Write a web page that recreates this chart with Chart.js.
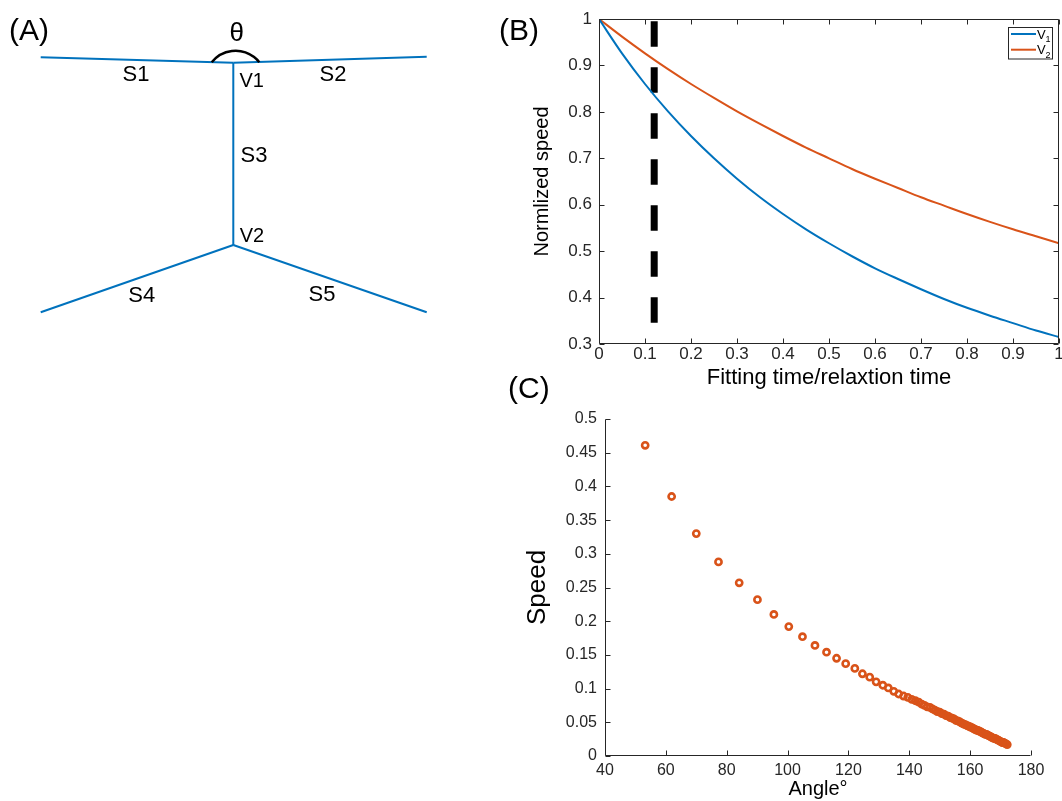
<!DOCTYPE html>
<html>
<head>
<meta charset="utf-8">
<script src="https://cdn.jsdelivr.net/npm/chart.js@4.4.1/dist/chart.umd.min.js"></script>
<style>
  body { margin: 0; background: #fff; }
  #page { position: relative; width: 1062px; height: 801px; overflow: hidden; background: #fff; }
  canvas { position: absolute; }
</style>
</head>
<body>
<div id="page">
  <canvas id="chartA" width="460" height="340" style="left:0;top:0"></canvas>
  <canvas id="chartB" width="562" height="400" style="left:500px;top:0"></canvas>
  <canvas id="chartC" width="562" height="441" style="left:500px;top:360px"></canvas>
</div>
<script>
// ---- (A) network sketch, units = px, origin at vertex V2, y up
const pointNames = ['V1', 'V2', 'P1', 'P2', 'P4', 'P5']
const pointX = [0, 0, -192.6, 193.4, -192.6, 193.4]
const pointY = [182.3, 0, 187.7, 188.3, -67.3, -67.3]
const segments = [['P1', 'V1'], ['V1', 'P2'], ['V1', 'V2'], ['V2', 'P4'], ['V2', 'P5']]
const sketchLabels = ['S1', 'S2', 'S3', 'S4', 'S5', 'V1', 'V2', 'θ']
const sketchLabelX = [-97.3, 99.7, 20.7, -91.5, 88.7, 18.4, 18.7, 3.4]
const sketchLabelY = [171.7, 172, 90.7, -49.3, -48.3, 165, 10, 213.3]
const sketchLabelSize = [22, 22, 22, 22, 22, 20, 20, 26]
const thetaArc = [2.2, 164.1, 30.2, -142, -38]   // cx, cy, r, from deg, to deg

// ---- (B) normalized speed vs fitting time / relaxation time
const timeRatio = [0, 0.05, 0.1, 0.15, 0.2, 0.25, 0.3, 0.35, 0.4, 0.45, 0.5,
  0.55, 0.6, 0.65, 0.7, 0.75, 0.8, 0.85, 0.9, 0.95, 1]
const v1Speed = [1, 0.926, 0.860, 0.801, 0.748, 0.700, 0.656, 0.616, 0.580, 0.547, 0.517,
  0.489, 0.463, 0.440, 0.418, 0.397, 0.378, 0.361, 0.345, 0.329, 0.315]
const v2Speed = [1, 0.962, 0.926, 0.892, 0.860, 0.830, 0.801, 0.774, 0.748, 0.723, 0.700,
  0.677, 0.656, 0.636, 0.616, 0.598, 0.580, 0.563, 0.547, 0.532, 0.517]
const markTime = 0.12
const markSpeed = [0.995, 0.345]
const seriesNames = ['V', 'V']
const seriesSubs = ['1', '2']

// ---- (C) speed vs angle
const angleDeg = [53.2, 61.9, 70.0, 77.3, 84.1, 90.1, 95.5, 100.4, 104.9, 109.0,
  112.8, 116.1, 119.1, 122.1, 124.6, 127.0, 129.1, 131.3, 133.1, 134.9,
  136.5, 138.1, 139.5, 140.8, 142.0, 143.1, 144.1, 145.0, 145.9, 146.8,
  147.6, 148.4, 149.2, 150.0, 150.7, 151.4, 152.1, 152.8, 153.5, 154.1,
  154.7, 155.3, 155.9, 156.5, 157.1, 157.6, 158.1, 158.6, 159.1, 159.6,
  160.1, 160.6, 161.0, 161.4, 161.8, 162.2, 162.6, 163.0, 163.4, 163.8,
  164.2, 164.6, 165.0, 165.4, 165.8, 166.2, 166.6, 167.0, 167.4, 167.8,
  168.2, 168.6, 169.0, 169.4, 169.8, 170.2, 170.6, 171.0, 171.4, 171.8, 172.2]
const speedVal = [0.461, 0.385, 0.330, 0.288, 0.257, 0.232, 0.210, 0.192, 0.177, 0.164,
  0.154, 0.145, 0.137, 0.130, 0.122, 0.117, 0.110, 0.105, 0.101, 0.096,
  0.092, 0.089, 0.087, 0.084, 0.082, 0.080, 0.077, 0.075, 0.073, 0.072,
  0.070, 0.068, 0.066, 0.065, 0.063, 0.062, 0.060, 0.059, 0.057, 0.056,
  0.055, 0.053, 0.052, 0.051, 0.049, 0.048, 0.047, 0.046, 0.045, 0.044,
  0.043, 0.042, 0.041, 0.040, 0.039, 0.038, 0.038, 0.037, 0.036, 0.035,
  0.034, 0.033, 0.032, 0.032, 0.031, 0.030, 0.029, 0.028, 0.027, 0.026,
  0.026, 0.025, 0.024, 0.023, 0.022, 0.021, 0.020, 0.020, 0.019, 0.018, 0.017]

const FONT = '"Liberation Sans", Arial, Helvetica, sans-serif'
const BLUE = '#0072BD'
const ORANGE = '#D95319'
const AXIS = '#262626'

Chart.defaults.font.family = FONT
Chart.defaults.animation = false
Chart.defaults.devicePixelRatio = 1

const fmt = v => String(+(+v).toFixed(2))

// fix scale sizes so the plot area lands where the figure has it
function fixed(size) {
  return function (s) {
    s.paddingLeft = s.paddingRight = s.paddingTop = s.paddingBottom = 0
    if (s.isHorizontal()) s.height = size
    else s.width = size
  }
}

// inward MATLAB-style ticks and the axis frame
const inTicks = {
  id: 'inTicks',
  afterDatasetsDraw(chart, args, opts) {
    const { ctx, chartArea: a, scales: { x, y } } = chart
    const len = 5
    ctx.save()
    ctx.strokeStyle = AXIS
    ctx.lineWidth = 1
    ctx.beginPath()
    const L = Math.round(a.left) + 0.5, R = Math.round(a.right) - 0.5
    const T = Math.round(a.top) + 0.5, B = Math.round(a.bottom) - 0.5
    x.ticks.forEach(t => {
      const p = Math.round(x.getPixelForValue(t.value)) + 0.5
      ctx.moveTo(p, B); ctx.lineTo(p, B - len)
      if (opts.box) { ctx.moveTo(p, T); ctx.lineTo(p, T + len) }
    })
    y.ticks.forEach(t => {
      const p = Math.round(y.getPixelForValue(t.value)) + 0.5
      ctx.moveTo(L, p); ctx.lineTo(L + len, p)
      if (opts.box) { ctx.moveTo(R, p); ctx.lineTo(R - len, p) }
    })
    ctx.moveTo(L, T); ctx.lineTo(L, B); ctx.lineTo(R, B)
    if (opts.box) { ctx.lineTo(R, T); ctx.lineTo(L, T) }
    ctx.stroke()
    ctx.restore()
  }
}

// big panel letter
const panelTag = {
  id: 'panelTag',
  afterDraw(chart, args, opts) {
    const ctx = chart.ctx
    ctx.save()
    ctx.fillStyle = '#000'
    ctx.font = '30px ' + FONT
    ctx.textBaseline = 'alphabetic'
    ctx.fillText(opts.text, opts.x, opts.y)
    ctx.restore()
  }
}

// ---------------- (A)
const sketchSets = segments.map(([p, q]) => {
  const i = pointNames.indexOf(p), j = pointNames.indexOf(q)
  return {
    data: [{ x: pointX[i], y: pointY[i] }, { x: pointX[j], y: pointY[j] }],
    showLine: true,
    borderColor: BLUE,
    borderWidth: 2,
    pointRadius: 0,
    clip: false
  }
})

const sketchText = {
  id: 'sketchText',
  afterDatasetsDraw(chart) {
    const { ctx, scales: { x, y } } = chart
    ctx.save()
    ctx.fillStyle = '#000'
    ctx.textAlign = 'center'
    ctx.textBaseline = 'alphabetic'
    sketchLabels.forEach((s, i) => {
      const size = sketchLabelSize[i]
      ctx.font = size + 'px ' + FONT
      ctx.fillText(s, x.getPixelForValue(sketchLabelX[i]), y.getPixelForValue(sketchLabelY[i]) + 0.36 * size)
    })
    const [cx, cy, r, a0, a1] = thetaArc
    const px = x.getPixelForValue(cx), py = y.getPixelForValue(cy)
    const pr = x.getPixelForValue(cx + r) - px
    ctx.strokeStyle = '#000'
    ctx.lineWidth = 2.5
    ctx.beginPath()
    ctx.arc(px, py, pr, a0 * Math.PI / 180, a1 * Math.PI / 180)
    ctx.stroke()
    ctx.restore()
  }
}

new Chart(document.getElementById('chartA'), {
  type: 'scatter',
  data: { datasets: sketchSets },
  options: {
    responsive: false,
    layout: { padding: 0 },
    scales: {
      x: { display: false, min: -233.3, max: 226.7 },
      y: { display: false, min: -95, max: 245 }
    },
    plugins: {
      legend: { display: false },
      tooltip: { enabled: false },
      panelTag: { text: '(A)', x: 9, y: 40 }
    }
  },
  plugins: [sketchText, panelTag]
})

// ---------------- (B)
const legendB = {
  id: 'legendB',
  afterDraw(chart) {
    const { ctx, chartArea: a } = chart
    const bx = a.right - 51.5, by = a.top + 7.5, bw = 44, bh = 31.5
    ctx.save()
    ctx.fillStyle = '#fff'
    ctx.fillRect(bx, by, bw, bh)
    ctx.strokeStyle = AXIS
    ctx.lineWidth = 1
    ctx.strokeRect(Math.round(bx) + 0.5, Math.round(by) + 0.5, bw, bh)
    const colors = [BLUE, ORANGE]
    seriesNames.forEach((name, i) => {
      const ly = by + 7.5 + i * 15.7
      ctx.strokeStyle = colors[i]
      ctx.lineWidth = 2
      ctx.beginPath()
      ctx.moveTo(bx + 3.5, ly); ctx.lineTo(bx + 28.5, ly)
      ctx.stroke()
      ctx.fillStyle = '#000'
      ctx.font = '13px ' + FONT
      ctx.fillText(name, bx + 29.5, ly + 4.5)
      ctx.font = '9px ' + FONT
      ctx.fillText(seriesSubs[i], bx + 38, ly + 8)
    })
    ctx.restore()
  }
}

new Chart(document.getElementById('chartB'), {
  type: 'line',
  data: {
    datasets: [
      {
        label: 'V1',
        data: timeRatio.map((t, i) => ({ x: t, y: v1Speed[i] })),
        borderColor: BLUE, borderWidth: 2, pointRadius: 0,
        cubicInterpolationMode: 'monotone'
      },
      {
        label: 'V2',
        data: timeRatio.map((t, i) => ({ x: t, y: v2Speed[i] })),
        borderColor: ORANGE, borderWidth: 2, pointRadius: 0,
        cubicInterpolationMode: 'monotone'
      },
      {
        label: 'mark',
        data: markSpeed.map(v => ({ x: markTime, y: v })),
        borderColor: '#000', borderWidth: 7, borderDash: [25.5, 20.5],
        borderCapStyle: 'butt', pointRadius: 0
      }
    ]
  },
  options: {
    responsive: false,
    layout: { padding: { left: 0, top: 19, right: 3, bottom: 0 } },
    scales: {
      x: {
        type: 'linear', min: 0, max: 1,
        grid: { display: false, drawTicks: false },
        border: { display: false },
        ticks: { stepSize: 0.1, autoSkip: false, maxRotation: 0, padding: 0, color: AXIS, font: { size: 17 }, callback: fmt },
        title: { display: true, text: 'Fitting time/relaxtion time', color: '#000', font: { size: 22 }, padding: { top: 0, bottom: 9 } },
        afterFit: fixed(56)
      },
      y: {
        min: 0.3, max: 1,
        grid: { display: false, drawTicks: false },
        border: { display: false },
        ticks: { stepSize: 0.1, autoSkip: false, padding: 7, color: AXIS, font: { size: 17 }, callback: fmt },
        title: { display: true, text: 'Normlized speed', color: '#000', font: { size: 20 }, padding: { top: 30, bottom: 0 } },
        afterFit: fixed(99)
      }
    },
    plugins: {
      legend: { display: false },
      tooltip: { enabled: false },
      inTicks: { box: true },
      panelTag: { text: '(B)', x: -1, y: 40 }
    }
  },
  plugins: [inTicks, legendB, panelTag]
})

// ---------------- (C)
new Chart(document.getElementById('chartC'), {
  type: 'scatter',
  data: {
    datasets: [{
      label: 'Speed',
      data: angleDeg.map((a, i) => ({ x: a, y: speedVal[i] })),
      borderColor: ORANGE,
      backgroundColor: 'rgba(0,0,0,0)',
      pointRadius: 3.1,
      pointBorderWidth: 2.6
    }]
  },
  options: {
    responsive: false,
    layout: { padding: { left: 0, top: 59, right: 31, bottom: 0 } },
    scales: {
      x: {
        min: 40, max: 180,
        grid: { display: false, drawTicks: false },
        border: { display: false },
        ticks: { stepSize: 20, autoSkip: false, maxRotation: 0, padding: 5, color: AXIS, font: { size: 16 }, callback: fmt },
        title: { display: true, text: 'Angle°', color: '#000', font: { size: 20 }, padding: { top: 0, bottom: 0 } },
        afterFit: fixed(45)
      },
      y: {
        min: 0, max: 0.5,
        grid: { display: false, drawTicks: false },
        border: { display: false },
        ticks: { stepSize: 0.05, autoSkip: false, padding: 8, color: AXIS, font: { size: 16 }, callback: fmt },
        title: { display: true, text: 'Speed', color: '#000', font: { size: 26 }, padding: { top: 22, bottom: 0 } },
        afterFit: fixed(105)
      }
    },
    plugins: {
      legend: { display: false },
      tooltip: { enabled: false },
      inTicks: { box: false },
      panelTag: { text: '(C)', x: 8, y: 38 }
    }
  },
  plugins: [inTicks, panelTag]
})
</script>
</body>
</html>
